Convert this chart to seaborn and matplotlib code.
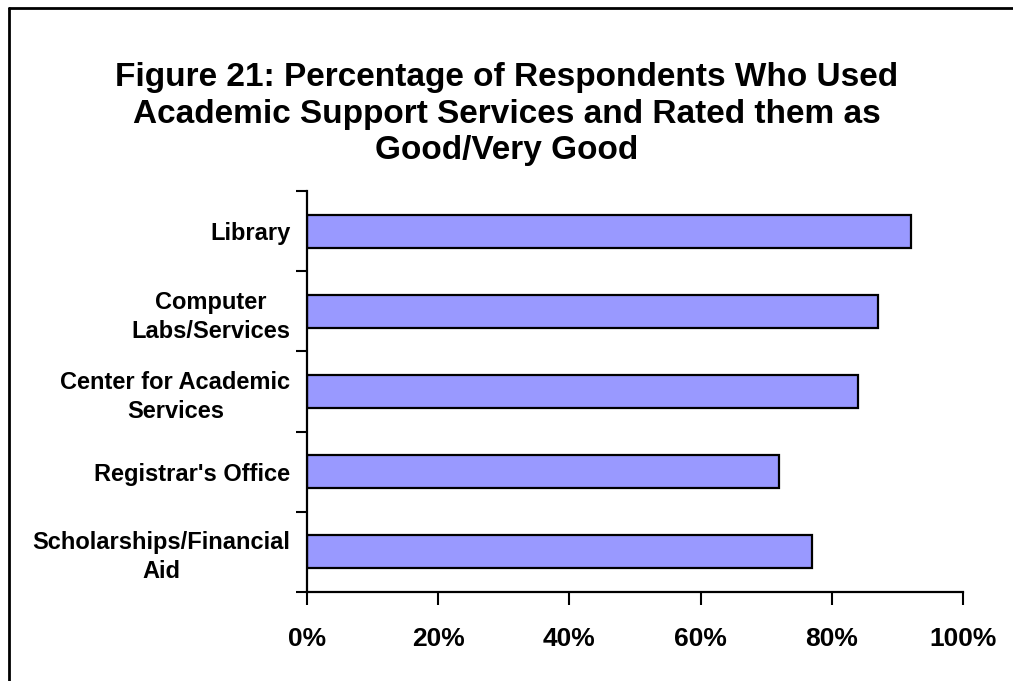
import matplotlib
matplotlib.use("Agg")
import matplotlib.pyplot as plt
import seaborn as sns
import pandas as pd
from matplotlib.lines import Line2D

services = ["Library", "Computer\nLabs/Services", "Center for Academic\nServices",
            "Registrar's Office", "Scholarships/Financial\nAid"]
pct_good = [92, 87, 84, 72, 77]
x_ticks = [0, 20, 40, 60, 80, 100]
x_tick_labels = ["0%", "20%", "40%", "60%", "80%", "100%"]

df = pd.DataFrame({"service": services, "pct": pct_good})

sns.set_theme(style="white")
plt.rcParams["font.family"] = ["Liberation Sans", "DejaVu Sans"]
plt.rcParams["font.weight"] = "bold"
plt.rcParams["text.color"] = "black"
plt.rcParams["xtick.color"] = "black"
plt.rcParams["ytick.color"] = "black"

fig = plt.figure(figsize=(10.13, 6.81), dpi=100)
ax = fig.add_axes([307 / 1013, 1 - 592 / 681, (963 - 307) / 1013, (592 - 191) / 681])

sns.barplot(data=df, x="pct", y="service", orient="h", ax=ax, width=0.41,
            color="#9999FF", saturation=1, edgecolor="black", linewidth=1.6)

ax.set_xlim(0, 100)
ax.set_ylim(4.5, -0.5)
ax.set_xlabel("")
ax.set_ylabel("")

ax.set_xticks(x_ticks)
ax.set_xticklabels(x_tick_labels, fontsize=19, fontweight="bold", color="black")
ax.tick_params(axis="x", direction="out", length=9, width=1.5, color="black",
               bottom=True, pad=16)

# category labels at bar centres, tick marks at category boundaries
ax.set_yticks(range(len(services)))
ax.set_yticklabels(services, fontsize=17, fontweight="bold", color="black",
                   multialignment="center", linespacing=1.32)
ax.tick_params(axis="y", which="major", length=0, pad=12)
ax.set_yticks([i - 0.5 for i in range(len(services) + 1)], minor=True)
ax.tick_params(axis="y", which="minor", direction="out", length=8, width=1.5,
               color="black", left=True)

for side in ["top", "right"]:
    ax.spines[side].set_visible(False)
for side in ["left", "bottom"]:
    ax.spines[side].set_color("black")
    ax.spines[side].set_linewidth(1.6)

fig.text(0.5005, 1 - 114 / 681,
         "Figure 21: Percentage of Respondents Who Used\n"
         "Academic Support Services and Rated them as\n"
         "Good/Very Good",
         ha="center", va="center", fontsize=24, fontweight="bold",
         color="black", linespacing=1.23)

# chart frame
fig.add_artist(Line2D([9 / 1013, 9 / 1013], [0, 1 - 8 / 681], transform=fig.transFigure,
                      color="black", linewidth=2))
fig.add_artist(Line2D([9 / 1013, 1], [1 - 8 / 681, 1 - 8 / 681], transform=fig.transFigure,
                      color="black", linewidth=2))

fig.savefig("out.png", dpi=100)
